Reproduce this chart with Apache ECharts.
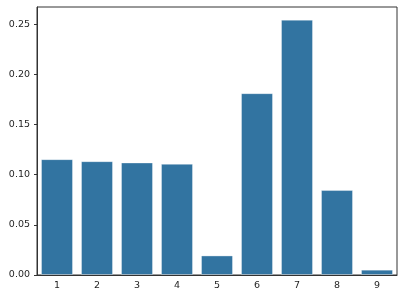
<!DOCTYPE html>
<html><head><meta charset="utf-8">
<script src="https://cdn.jsdelivr.net/npm/echarts@6/dist/echarts.min.js"></script>
<style>html,body{margin:0;padding:0;background:#fff}#c{width:404px;height:300px}</style>
</head><body><div id="c"></div>
<script>
var categories = ['1','2','3','4','5','6','7','8','9'];
var values = [0.1155, 0.1135, 0.1122, 0.1109, 0.0195, 0.1813, 0.2546, 0.0847, 0.0053];
var yTicks = [0, 0.05, 0.10, 0.15, 0.20, 0.25];
var yMax = 0.2672;

var chart = echarts.init(document.getElementById('c'), null, {renderer:'canvas'});
var font = {fontFamily:'DejaVu Sans', fontSize:9.5, color:'#1f1f1f'};
chart.setOption({
  animation:false,
  grid:{left:37, right:7, top:7, bottom:25, show:true, borderColor:'#333', borderWidth:1, backgroundColor:'transparent'},
  xAxis:{type:'category', data:categories, boundaryGap:true,
    axisLine:{lineStyle:{color:'#333', width:1}},
    axisTick:{alignWithLabel:true, length:3, lineStyle:{color:'#333'}},
    axisLabel:Object.assign({margin:6}, font),
    splitLine:{show:false}},
  yAxis:{type:'value', min:0, max:yMax, interval:0.05,
    axisLine:{show:true, lineStyle:{color:'#333', width:1}},
    axisTick:{show:true, length:3, lineStyle:{color:'#333'}, customValues:yTicks},
    axisLabel:Object.assign({margin:7, customValues:yTicks, formatter:function(v){return v.toFixed(2);}}, font),
    splitLine:{show:false}},
  series:[{type:'bar', data:values, barCategoryGap:'20%',
    itemStyle:{color:'#3274a1', borderColor:'rgba(255,255,255,0.35)', borderWidth:1}}]
});
</script></body></html>
